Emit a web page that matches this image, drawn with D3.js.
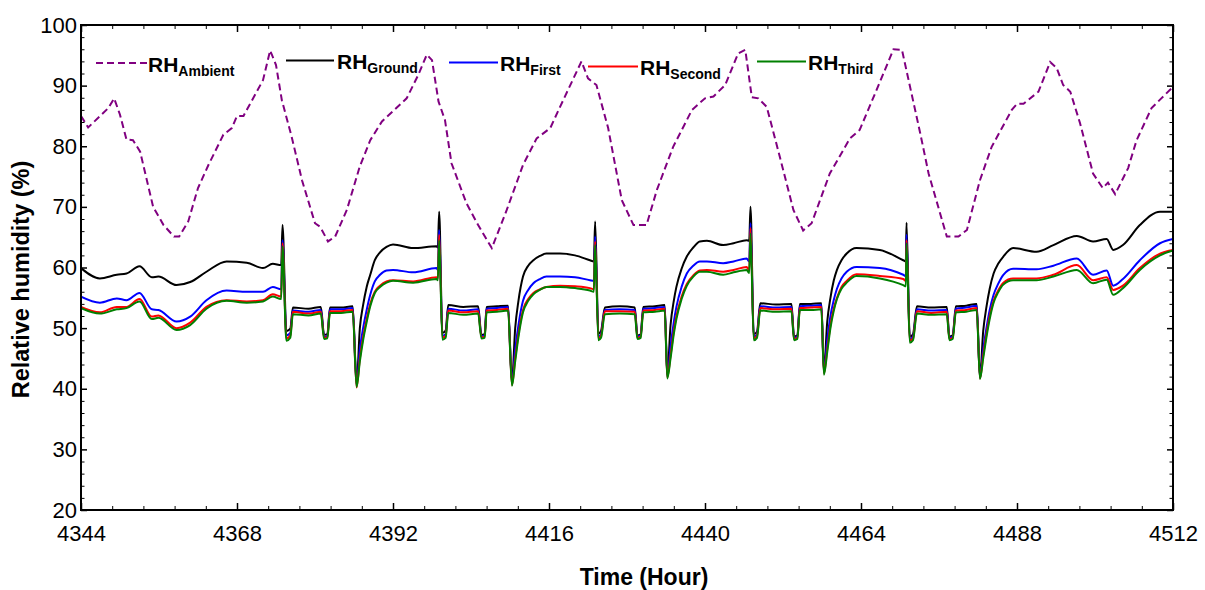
<!DOCTYPE html>
<html>
<head>
<meta charset="utf-8">
<script src="https://cdn.jsdelivr.net/npm/d3@7"></script>
<style>
  html, body { margin: 0; padding: 0; background: #fff; }
  svg { display: block; font-family: Arial, "Liberation Sans", sans-serif; }
</style>
</head>
<body>
<svg id="chart" width="1205" height="590"></svg>
<script>
// ---------------- DATA ----------------
const xTickLabels = [4344, 4368, 4392, 4416, 4440, 4464, 4488, 4512];
const yTickLabels = [20, 30, 40, 50, 60, 70, 80, 90, 100];

// Ambient RH (dashed purple), vertices [hour, %]
const ambientHours = [4344.0, 4345.1, 4348.2, 4349.1, 4350.0, 4351.0, 4352.0, 4353.1, 4355.1, 4356.7, 4358.3, 4359.1,
  4360.5, 4362.0, 4363.6, 4365.9, 4367.2, 4368.0, 4369.0, 4372.0, 4373.1, 4374.0, 4374.9, 4376.4, 4378.0, 4380.0,
  4380.8, 4382.0, 4383.1, 4384.9, 4386.9, 4388.5, 4390.3, 4394.1, 4395.9, 4397.2, 4398.0, 4399.0, 4400.0, 4401.0,
  4403.3, 4405.1, 4407.2, 4409.5, 4412.0, 4414.1, 4416.2, 4417.7, 4421.0, 4422.0, 4423.3, 4425.1, 4427.2, 4429.0,
  4431.0, 4432.6, 4435.1, 4438.0, 4440.0, 4441.3, 4443.1, 4445.1, 4446.2, 4447.2, 4448.2, 4449.5, 4451.5, 4453.6,
  4455.1, 4456.4, 4459.2, 4462.3, 4463.8, 4466.4, 4469.0, 4470.3, 4473.1, 4474.4, 4477.2, 4479.0, 4480.3, 4482.3,
  4484.1, 4487.2, 4488.0, 4489.0, 4491.3, 4493.1, 4494.1, 4495.1, 4496.2, 4497.7, 4499.7, 4501.2, 4502.0, 4503.1,
  4505.1, 4506.4, 4508.7, 4510.2, 4512.0];
const ambientRH = [85.0, 83.1, 86.3, 87.9, 85.2, 81.1, 81.0, 79.1, 70.0, 67.0, 65.1, 65.1,
  67.6, 73.1, 76.9, 81.9, 83.0, 85.0, 85.0, 90.9, 95.8, 93.4, 87.6, 81.6, 74.4, 67.3,
  66.7, 64.3, 65.1, 69.5, 76.7, 81.0, 84.1, 87.9, 91.8, 95.1, 94.2, 87.4, 84.3, 77.2,
  70.6, 67.0, 63.2, 69.5, 76.9, 81.3, 83.0, 86.5, 94.0, 91.2, 90.1, 83.0, 71.1, 67.0,
  67.0, 72.8, 79.9, 86.0, 87.9, 88.2, 90.1, 95.3, 95.9, 88.1, 87.9, 86.5, 78.3, 69.5,
  66.1, 67.3, 75.5, 81.3, 82.7, 89.3, 96.0, 95.9, 82.2, 75.5, 65.1, 65.1, 66.2, 74.4,
  79.9, 86.0, 87.0, 87.0, 89.0, 93.9, 92.9, 90.1, 89.0, 83.8, 75.5, 73.1, 74.0, 72.1,
  76.4, 81.0, 86.3, 87.9, 89.8];

// Indoor series share one time grid [hour]
const indoorHours = [
  4344.0, 4346.9, 4349.5, 4351.0, 4353.0, 4354.9, 4355.9, 4358.7, 4360.8, 4363.3, 4366.4, 4369.5, 4372.0, 4373.5, 4374.8,
  4375.0, 4375.6, 4376.2, 4376.6, 4379.0, 4380.9, 4381.4, 4381.9, 4382.3, 4384.0, 4385.8, 4386.4,
  4386.9, 4387.4, 4387.95, 4388.5, 4389.2, 4390.0, 4391.0, 4392.0, 4395.1, 4398.7, 4398.9,
  4399.1, 4399.6, 4400.1, 4400.5, 4402.8, 4405.1, 4405.6, 4406.1, 4406.4, 4408.0, 4409.7, 4410.3,
  4410.8, 4411.3, 4412.0, 4412.8, 4413.6, 4414.6, 4415.6, 4417.7, 4420.0, 4422.3, 4422.9,
  4423.1, 4423.6, 4424.0, 4424.6, 4426.9, 4429.2, 4429.6, 4430.1, 4430.5, 4432.3, 4433.8, 4434.2,
  4434.7, 4435.2, 4435.6, 4436.4, 4437.2, 4438.2, 4439.2, 4440.3, 4442.8, 4444.4, 4446.4, 4446.8,
  4447.0, 4447.5, 4448.0, 4448.5, 4450.9, 4453.3, 4453.7, 4454.2, 4454.6, 4456.3, 4457.9, 4458.3,
  4458.8, 4459.3, 4459.8, 4460.3, 4461.0, 4461.8, 4463.3, 4466.9, 4470.5, 4470.9,
  4471.0, 4471.5, 4472.0, 4472.6, 4474.8, 4477.2, 4477.6, 4478.1, 4478.6, 4480.2, 4481.8, 4482.3,
  4482.8, 4483.3, 4483.8, 4484.4, 4485.1, 4485.9, 4487.4, 4491.0, 4493.6, 4497.2, 4499.7, 4501.8, 4502.8, 4504.3,
  4506.9, 4510.0, 4512.0];

const groundRH = [
  59.9, 58.2, 58.8, 59.0, 60.2, 58.4, 58.5, 57.1, 57.6, 59.3, 61.0, 60.8, 59.9, 60.6, 60.4,
  67.0, 49.5, 49.9, 53.4, 53.2, 53.5, 48.9, 49.0, 53.4, 53.4, 53.6, 41.0,
  50.0, 53.8, 56.8, 58.8, 61.2, 62.5, 63.4, 63.8, 63.2, 63.5, 63.3,
  69.2, 49.2, 49.6, 53.8, 53.5, 53.6, 48.9, 49.0, 53.5, 53.6, 53.7, 41.2,
  50.0, 54.5, 58.5, 60.3, 61.2, 61.9, 62.3, 62.3, 62.0, 61.2, 61.0,
  67.6, 49.1, 49.5, 53.4, 53.6, 53.4, 48.8, 49.0, 53.5, 53.6, 53.8, 42.3,
  50.5, 54.5, 56.8, 59.8, 61.8, 63.3, 64.3, 64.4, 63.7, 64.0, 64.5, 64.4,
  70.0, 49.0, 49.4, 54.1, 53.9, 54.0, 48.6, 48.8, 54.0, 54.0, 54.1, 43.0,
  51.0, 55.0, 57.8, 59.6, 61.2, 62.3, 63.2, 62.9, 61.2, 61.0,
  67.4, 48.6, 49.0, 53.6, 53.4, 53.5, 48.6, 48.8, 53.6, 53.7, 54.0, 42.0,
  49.5, 53.5, 56.5, 59.0, 60.6, 61.8, 63.2, 62.6, 63.7, 65.2, 64.3, 64.7, 62.9, 63.7, 67.0, 69.2, 69.2];

const firstRH = [
  55.2, 54.2, 54.9, 54.6, 55.8, 53.1, 53.0, 51.1, 51.9, 54.6, 56.2, 56.0, 56.0, 56.8, 56.4,
  64.5, 48.8, 49.2, 52.9, 52.7, 53.0, 48.6, 48.7, 53.1, 53.1, 53.3, 40.6,
  46.5, 50.0, 53.0, 55.5, 57.7, 58.8, 59.5, 59.6, 59.2, 59.9, 59.6,
  66.2, 48.7, 49.0, 53.2, 52.9, 53.1, 48.7, 48.8, 53.2, 53.3, 53.5, 40.9,
  46.5, 50.5, 54.5, 56.3, 57.4, 58.1, 58.5, 58.5, 58.4, 57.9, 57.8,
  65.1, 48.6, 49.0, 53.0, 53.1, 53.0, 48.6, 48.8, 53.2, 53.3, 53.5, 42.0,
  47.0, 51.0, 53.5, 56.8, 59.0, 60.3, 61.0, 61.0, 60.7, 61.0, 61.5, 61.0,
  67.3, 48.6, 49.0, 53.6, 53.4, 53.5, 48.4, 48.6, 53.6, 53.7, 53.8, 42.7,
  48.0, 52.0, 54.6, 56.5, 58.2, 59.3, 60.1, 59.9, 58.8, 58.6,
  65.4, 48.2, 48.6, 53.1, 52.9, 53.0, 48.4, 48.6, 53.2, 53.4, 53.7, 41.8,
  46.5, 50.0, 53.0, 55.5, 57.3, 58.8, 59.8, 59.7, 60.3, 61.5, 58.8, 59.5, 57.0, 58.1, 61.2, 64.0, 64.7];

const secondRH = [
  53.5, 52.6, 53.5, 53.5, 54.8, 51.9, 52.1, 50.0, 50.9, 53.5, 54.6, 54.4, 54.6, 55.6, 55.2,
  64.0, 48.3, 48.8, 52.7, 52.4, 52.7, 48.4, 48.5, 52.8, 52.8, 53.0, 40.2,
  45.0, 48.5, 51.5, 54.0, 56.0, 57.0, 57.7, 57.9, 57.7, 58.4, 58.2,
  65.4, 48.4, 48.7, 52.9, 52.6, 52.8, 48.5, 48.6, 52.9, 53.0, 53.2, 40.6,
  45.0, 49.0, 53.0, 54.8, 55.8, 56.4, 56.8, 57.0, 56.9, 56.6, 56.4,
  64.3, 48.3, 48.7, 52.8, 52.8, 52.7, 48.4, 48.6, 52.9, 53.0, 53.2, 41.8,
  45.5, 49.5, 52.0, 55.2, 57.3, 58.7, 59.5, 59.6, 59.3, 59.6, 60.1, 59.5,
  66.5, 48.3, 48.7, 53.3, 53.1, 53.2, 48.2, 48.4, 53.3, 53.4, 53.5, 42.5,
  46.5, 50.5, 53.2, 55.0, 56.8, 57.8, 58.9, 58.6, 58.1, 57.8,
  64.5, 47.9, 48.3, 52.8, 52.5, 52.7, 48.2, 48.4, 52.9, 53.0, 53.3, 41.7,
  45.5, 49.0, 52.0, 54.5, 56.2, 57.5, 58.2, 58.2, 58.8, 60.4, 57.9, 58.4, 56.3, 57.0, 59.9, 62.3, 62.9];

const thirdRH = [
  53.3, 52.4, 53.1, 53.3, 54.4, 51.5, 51.7, 49.7, 50.5, 53.2, 54.5, 54.2, 54.4, 55.2, 54.8,
  63.5, 47.9, 48.4, 52.3, 52.1, 52.4, 48.2, 48.3, 52.5, 52.5, 52.7, 40.3,
  44.5, 48.0, 51.0, 53.6, 55.8, 56.8, 57.5, 57.8, 57.5, 58.1, 57.9,
  64.5, 48.1, 48.4, 52.5, 52.2, 52.4, 48.3, 48.4, 52.6, 52.7, 52.9, 40.5,
  44.5, 48.5, 52.6, 54.5, 55.6, 56.3, 56.8, 56.8, 56.6, 56.2, 56.0,
  63.7, 48.0, 48.4, 52.3, 52.4, 52.3, 48.2, 48.4, 52.6, 52.7, 52.9, 41.7,
  45.0, 49.0, 51.5, 54.8, 57.0, 58.5, 59.3, 59.3, 58.8, 59.2, 59.6, 59.1,
  65.6, 48.0, 48.4, 52.9, 52.7, 52.8, 48.0, 48.2, 53.0, 53.0, 53.1, 42.3,
  46.0, 50.0, 52.8, 54.8, 56.5, 57.5, 58.6, 58.2, 57.1, 56.9,
  64.0, 47.6, 48.0, 52.4, 52.2, 52.3, 48.0, 48.2, 52.6, 52.7, 53.0, 41.6,
  45.0, 48.5, 51.5, 54.2, 55.9, 57.2, 57.9, 57.9, 58.5, 59.6, 57.4, 58.0, 55.5, 56.6, 59.6, 62.0, 62.8];

const seriesNames = ["Ambient", "Ground", "First", "Second", "Third"];
const seriesColors = ["#800080", "#000000", "#0000ff", "#ff0000", "#008000"];

// ---------------- LAYOUT ----------------
const svg = d3.select("#chart");
const L = 81, R = 1173, T = 25, B = 510;
const x = d3.scaleLinear().domain([4344, 4512]).range([L, R]);
const y = d3.scaleLinear().domain([20, 100]).range([B, T]);

const lineLinear = d3.line().x(d => x(d[0])).y(d => y(d[1]));
const lineSmooth = d3.line().x(d => x(d[0])).y(d => y(d[1])).curve(d3.curveMonotoneX);

svg.append("defs").append("clipPath").attr("id", "plotclip")
  .append("rect").attr("x", L).attr("y", T).attr("width", R - L).attr("height", B - T);

const plot = svg.append("g").attr("clip-path", "url(#plotclip)");

plot.append("path")
  .datum(ambientHours.map((h, i) => [h, ambientRH[i]]))
  .attr("d", lineLinear)
  .attr("fill", "none").attr("stroke", seriesColors[0])
  .attr("stroke-width", 2).attr("stroke-dasharray", "7,4");

[groundRH, firstRH, secondRH, thirdRH].forEach((vals, k) => {
  plot.append("path")
    .datum(indoorHours.map((h, i) => [h, vals[i]]))
    .attr("d", lineSmooth)
    .attr("fill", "none").attr("stroke", seriesColors[k + 1])
    .attr("stroke-width", 2).attr("stroke-linejoin", "round");
});

// ---------------- AXES ----------------
const xMinor = d3.range(0, 36).map(i => 4344 + i * 4.8).filter(v => !xTickLabels.includes(v));
const yMinor = d3.range(20, 101, 2).filter(v => v % 10 !== 0);

function styleAxis(g) {
  g.select(".domain").remove();
  g.selectAll("text").attr("font-size", 22).attr("fill", "#000")
    .attr("font-family", 'Arial, "Liberation Sans", sans-serif');
  g.selectAll("line").attr("stroke", "#000");
}
const thick = g => g.selectAll("line").attr("stroke-width", 1.5);

svg.append("g").attr("transform", `translate(0,${B})`)
  .call(d3.axisBottom(x).tickValues(xTickLabels).tickSize(-7).tickPadding(15).tickFormat(d3.format("d")))
  .call(styleAxis).call(thick);
svg.append("g").attr("transform", `translate(0,${B})`)
  .call(d3.axisBottom(x).tickValues(xMinor).tickSize(-4).tickFormat(""))
  .call(styleAxis);
svg.append("g").attr("transform", `translate(0,${T})`)
  .call(d3.axisTop(x).tickValues(xTickLabels).tickSize(-7).tickFormat(""))
  .call(styleAxis).call(thick);
svg.append("g").attr("transform", `translate(0,${T})`)
  .call(d3.axisTop(x).tickValues(xMinor).tickSize(-4).tickFormat(""))
  .call(styleAxis);
svg.append("g").attr("transform", `translate(${L},0)`)
  .call(d3.axisLeft(y).tickValues(yTickLabels).tickSize(-6).tickPadding(4).tickFormat(d3.format("d")))
  .call(styleAxis).call(thick);
svg.append("g").attr("transform", `translate(${L},0)`)
  .call(d3.axisLeft(y).tickValues(yMinor).tickSize(-3.5).tickFormat(""))
  .call(styleAxis);
svg.append("g").attr("transform", `translate(${R},0)`)
  .call(d3.axisRight(y).tickValues(yTickLabels).tickSize(-6).tickFormat(""))
  .call(styleAxis).call(thick);
svg.append("g").attr("transform", `translate(${R},0)`)
  .call(d3.axisRight(y).tickValues(yMinor).tickSize(-3.5).tickFormat(""))
  .call(styleAxis);

svg.append("rect").attr("x", L).attr("y", T).attr("width", R - L).attr("height", B - T)
  .attr("fill", "none").attr("stroke", "#000").attr("stroke-width", 2);

// axis titles
svg.append("text")
  .attr("x", 644).attr("y", 585)
  .attr("text-anchor", "middle").attr("font-size", 23).attr("font-weight", "bold")
  .text("Time (Hour)");
svg.append("text")
  .attr("transform", `translate(29,${(T + B) / 2 + 12}) rotate(-90)`)
  .attr("text-anchor", "middle").attr("font-size", 23.5).attr("font-weight", "bold")
  .text("Relative humidity (%)");

// ---------------- LEGEND ----------------
const legendPos = [
  { x1: 96, x2: 148, ly: 63, tx: 148, ty: 72 },
  { x1: 286, x2: 334, ly: 60.5, tx: 337, ty: 69 },
  { x1: 449, x2: 498, ly: 62.5, tx: 500, ty: 70.5 },
  { x1: 588, x2: 638, ly: 66.5, tx: 640, ty: 75 },
  { x1: 757, x2: 806, ly: 61.5, tx: 808, ty: 70 }
];
seriesNames.forEach((name, i) => {
  const p = legendPos[i];
  svg.append("line").attr("x1", p.x1).attr("x2", p.x2).attr("y1", p.ly).attr("y2", p.ly)
    .attr("stroke", seriesColors[i]).attr("stroke-width", 2)
    .attr("stroke-dasharray", i === 0 ? "7,4" : null);
  const t = svg.append("text").attr("x", p.tx).attr("y", p.ty).attr("font-weight", "bold");
  t.append("tspan").attr("font-size", 21).text("RH");
  t.append("tspan").attr("font-size", 14).attr("dy", 4).text(name);
});
</script>
</body>
</html>
